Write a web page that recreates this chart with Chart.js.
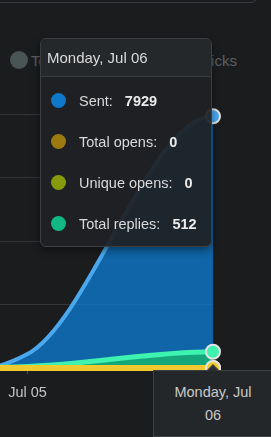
<!DOCTYPE html>
<html>
<head>
<meta charset="utf-8">
<script src="https://cdn.jsdelivr.net/npm/chart.js@4.4.0/dist/chart.umd.min.js"></script>
<style>
  html, body { margin: 0; padding: 0; width: 271px; height: 437px; overflow: hidden; background: #1b1c1e; }
  body { position: relative; font-family: "Liberation Sans", Arial, sans-serif; }
  #chart { position: absolute; left: -161px; top: 0; }
  .card-edge { position: absolute; left: -10px; top: -20px; width: 268px; height: 21px; border: 1px solid #3b3b46; border-radius: 0 0 10px 0; }
  #legend { position: absolute; left: 10px; top: 51px; display: flex; gap: 24px; font-size: 15px; color: #5d6063; }
  .lg-item { display: flex; align-items: center; height: 18px; }
  .lg-dot { width: 18px; height: 18px; border-radius: 50%; margin-right: 3px; }
  #cross { position: absolute; width: 0; border-left: 1px dashed rgba(10, 12, 14, 0.9); display: none; }
  #tip { position: absolute; display: none; box-sizing: border-box; width: 172px; border: 1px solid #3b3e42; border-radius: 6px;
         background: rgba(30, 32, 35, 0.93); box-shadow: 0 3px 8px rgba(0, 0, 0, 0.45); overflow: hidden; }
  .tip-title { height: 37px; line-height: 38px; padding-left: 6px; font-size: 15px; color: #d9d9d9;
               background: rgba(38, 41, 44, 0.95); border-bottom: 1px solid #3b3e42; }
  .tip-body { padding: 3px 0 2px 0; }
  .tip-row { display: flex; align-items: center; height: 41px; padding-left: 10px; font-size: 14.5px; }
  .tip-dot { width: 15px; height: 15px; border-radius: 50%; margin-right: 13px; }
  .tip-label { color: #dadada; }
  .tip-value { color: #ececec; font-weight: bold; margin-left: 12px; }
  #axisTip { position: absolute; display: none; box-sizing: border-box; width: 120px; padding: 10px 14px 9px 14px; border: 1px solid #3e4144;
             background: #24272a; color: #c9c9c9; font-size: 14.5px; line-height: 23px; text-align: center; }
  #axisTip::before { content: ""; position: absolute; left: 53px; top: -13px; border: 6px solid transparent; border-bottom-color: #3e4144; }
  #axisTip::after { content: ""; position: absolute; left: 54px; top: -10px; border: 5px solid transparent; border-bottom-color: #2a2d30; }
</style>
</head>
<body>
<div class="card-edge"></div>
<div id="legend"></div>
<div id="cross"></div>
<canvas id="chart" width="432" height="437"></canvas>
<div id="tip"><div class="tip-title"></div><div class="tip-body"></div></div>
<div id="axisTip"></div>
<script>
// data
const labels = ['Jul 04', 'Jul 05', 'Jul 06'];
const fullDates = ['Saturday, Jul 04', 'Sunday, Jul 05', 'Monday, Jul 06'];
const seriesNames = ['Sent', 'Total opens', 'Unique opens', 'Total replies'];
const sent = [0, 440, 7929];
const totalOpens = [0, 0, 0];
const uniqueOpens = [0, 0, 0];
const totalReplies = [0, 50, 512];
const legendLabels = ['Total clicks', 'Unique clicks'];
const yTicks = [0, 2000, 4000, 6000, 8000];

// colours
const seriesColors = ['#0f78c8', '#9c7a10', '#879a0e', '#12b884'];
const lineColors = ['#4aa8ee', '#f0c92e', '#c9d43a', '#3ef2b0'];
const fillColors = ['rgba(12, 125, 214, 0.75)', 'rgba(160, 124, 16, 0.6)', 'rgba(135, 154, 14, 0.6)', '#16a67b'];
const lineWidths = [4, 6, 6, 5];
const drawOrder = [3, 0, 2, 1];

// legend (inactive series, greyed out)
document.getElementById('legend').innerHTML = legendLabels.map(function (l) {
    return '<div class="lg-item"><span class="lg-dot" style="background:#4a5454"></span>' + l + '</div>';
}).join('');

// smooth curve like the original: flat at both ends, softened tangent inside
const smoothCurve = {
    id: 'smoothCurve',
    beforeDatasetsDraw(chart) {
        chart.getSortedVisibleDatasetMetas().forEach(function (meta) {
            const pts = meta.data;
            const n = pts.length;
            meta.dataset.updateControlPoints(chart.chartArea, 'x');
            for (let i = 0; i < n; i++) {
                const p = pts[i];
                let m = 0;
                if (i > 0 && i < n - 1) {
                    m = 0.8 * (pts[i + 1].y - pts[i - 1].y) / (pts[i + 1].x - pts[i - 1].x);
                }
                if (i > 0) {
                    const dx = (p.x - pts[i - 1].x) / 3;
                    p.cp1x = p.x - dx;
                    p.cp1y = p.y - m * dx;
                }
                if (i < n - 1) {
                    const dx = (pts[i + 1].x - p.x) / 3;
                    p.cp2x = p.x + dx;
                    p.cp2y = p.y + m * dx;
                }
            }
            meta.dataset._path = undefined;
        });
    }
};

function externalTooltip(context) {
    const chart = context.chart;
    const tooltip = context.tooltip;
    const tip = document.getElementById('tip');
    const axisTip = document.getElementById('axisTip');
    const cross = document.getElementById('cross');
    if (tooltip.opacity === 0 || !tooltip.dataPoints || !tooltip.dataPoints.length) {
        tip.style.display = 'none';
        axisTip.style.display = 'none';
        cross.style.display = 'none';
        return;
    }
    const items = tooltip.dataPoints.slice().sort(function (a, b) { return a.datasetIndex - b.datasetIndex; });
    const idx = items[0].dataIndex;
    const px = chart.canvas.offsetLeft + items[0].element.x;
    const area = chart.chartArea;

    tip.querySelector('.tip-title').textContent = fullDates[idx];
    tip.querySelector('.tip-body').innerHTML = items.map(function (it) {
        return '<div class="tip-row"><span class="tip-dot" style="background:' + seriesColors[it.datasetIndex] + '"></span>' +
            '<span class="tip-label">' + it.dataset.label + ':</span><span class="tip-value">' + it.raw + '</span></div>';
    }).join('');
    tip.style.display = 'block';
    tip.style.left = Math.round(px - 1 - tip.offsetWidth) + 'px';
    tip.style.top = Math.round(area.top - 76) + 'px';

    axisTip.textContent = fullDates[idx];
    axisTip.style.display = 'block';
    axisTip.style.left = Math.round(px - 60) + 'px';
    axisTip.style.top = Math.round(area.bottom + 2) + 'px';

    cross.style.display = 'block';
    cross.style.left = Math.round(px - 1) + 'px';
    cross.style.top = Math.round(area.top) + 'px';
    cross.style.height = Math.round(area.bottom - area.top) + 'px';
}

const seriesData = [sent, totalOpens, uniqueOpens, totalReplies];
const datasets = seriesNames.map(function (name, i) {
    return {
        label: name,
        data: seriesData[i],
        borderColor: lineColors[i],
        backgroundColor: fillColors[i],
        borderWidth: lineWidths[i],
        fill: 'origin',
        order: drawOrder[i],
        tension: 0.4,
        pointRadius: 0,
        pointHoverRadius: 7,
        pointHoverBorderWidth: 2,
        pointHoverBorderColor: '#e4e4e4',
        pointHoverBackgroundColor: lineColors[i],
        clip: { left: 0, top: 20, right: 20, bottom: 3 }
    };
});

const chart = new Chart(document.getElementById('chart'), {
    type: 'line',
    data: { labels: labels, datasets: datasets },
    options: {
        responsive: false,
        animation: false,
        events: [],
        layout: { padding: { left: 0, right: 58, top: 114, bottom: 0 } },
        interaction: { mode: 'index', intersect: false },
        plugins: {
            legend: { display: false },
            tooltip: { enabled: false, external: externalTooltip }
        },
        scales: {
            x: {
                grid: { drawOnChartArea: false, drawTicks: true, tickLength: 6, color: '#4a4d50' },
                border: { display: false },
                ticks: { color: '#c4c4c4', padding: 10, font: { family: 'Liberation Sans', size: 14.5 }, maxRotation: 0 },
                afterFit: function (scale) {
                    scale.height = 69;
                    scale.paddingLeft = 0;
                    scale.paddingRight = 0;
                }
            },
            y: {
                min: 0,
                max: 8000,
                afterBuildTicks: function (scale) { scale.ticks = yTicks.map(function (v) { return { value: v }; }); },
                grid: { color: '#323437', drawTicks: false },
                border: { display: false },
                ticks: { display: false },
                afterFit: function (scale) {
                    scale.width = 0;
                    scale.paddingTop = 0;
                    scale.paddingBottom = 0;
                }
            }
        }
    },
    plugins: [smoothCurve]
});

// show the hover state on the last day
const active = seriesNames.map(function (_, i) { return { datasetIndex: i, index: labels.length - 1 }; });
chart.setActiveElements(active);
const pt = chart.getDatasetMeta(0).data[labels.length - 1];
chart.tooltip.setActiveElements(active, { x: pt.x, y: pt.y });
chart.update();
</script>
</body>
</html>
